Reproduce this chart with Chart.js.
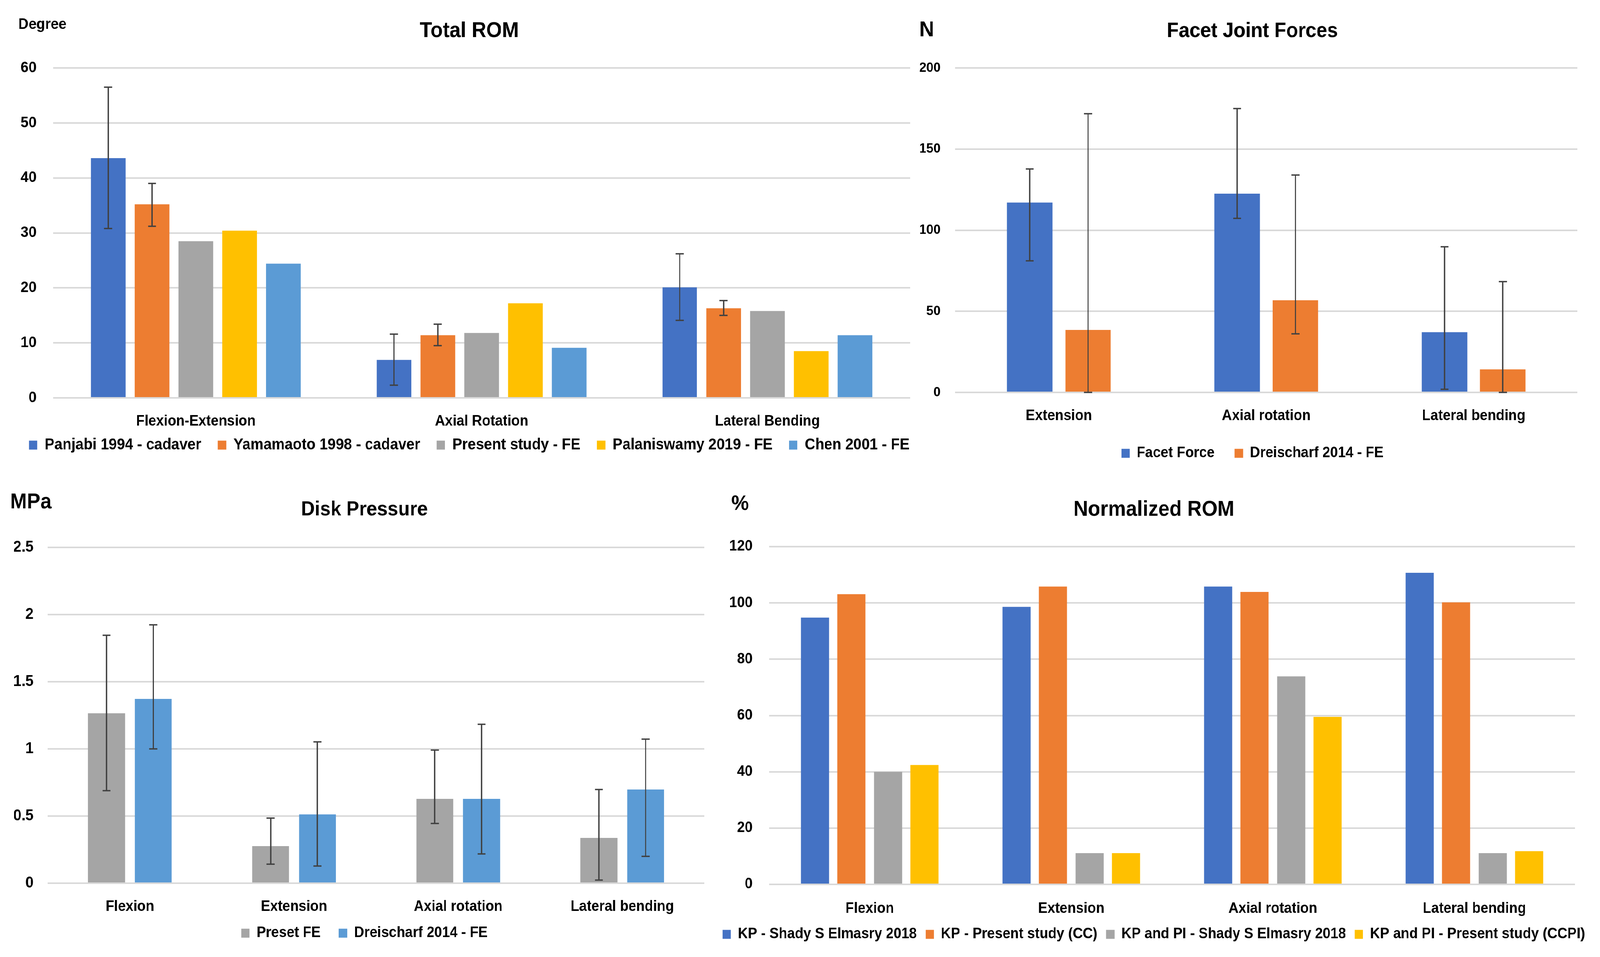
<!DOCTYPE html>
<html>
<head>
<meta charset="utf-8">
<script src="https://cdn.jsdelivr.net/npm/chart.js"></script>
<style>
  html, body { margin: 0; padding: 0; background: #fff; overflow: hidden; }
  #page { position: relative; width: 4382px; height: 2451px; background: #fff; transform-origin: 0 0; }
  #page canvas { position: absolute; }
</style>
</head>
<body>
<div id="page"></div>
<script>
// ---- Total ROM (degree) ----
const romLabels = ['Flexion-Extension', 'Axial Rotation', 'Lateral Bending'];
const romTicks = ['0', '10', '20', '30', '40', '50', '60'];
const romPanjabi = [43.6, 6.9, 20.1];
const romPanjabiLow = [30.8, 2.3, 14.1];
const romPanjabiHigh = [56.5, 11.6, 26.2];
const romYamamaoto = [35.2, 11.4, 16.3];
const romYamamaotoLow = [31.2, 9.5, 15.0];
const romYamamaotoHigh = [39.0, 13.4, 17.7];
const romPresent = [28.5, 11.8, 15.8];
const romPalaniswamy = [30.4, 17.2, 8.5];
const romChen = [24.4, 9.1, 11.4];

// ---- Facet Joint Forces (N) ----
const facetLabels = ['Extension', 'Axial rotation', 'Lateral bending'];
const facetTicks = ['0', '50', '100', '150', '200'];
const facetForce = [117.0, 122.5, 37.1];
const facetForceLow = [81.1, 107.3, 1.9];
const facetForceHigh = [137.7, 175.0, 89.8];
const facetDreischarf = [38.5, 56.8, 14.2];
const facetDreischarfLow = [0, 36.1, 0];
const facetDreischarfHigh = [171.8, 134.0, 68.3];

// ---- Disk Pressure (MPa) ----
const diskLabels = ['Flexion', 'Extension', 'Axial rotation', 'Lateral bending'];
const diskTicks = ['0', '0.5', '1', '1.5', '2', '2.5'];
const diskPreset = [1.265, 0.276, 0.628, 0.337];
const diskPresetLow = [0.689, 0.142, 0.445, 0.023];
const diskPresetHigh = [1.846, 0.485, 0.991, 0.698];
const diskDreischarf = [1.372, 0.512, 0.628, 0.698];
const diskDreischarfLow = [1.0, 0.128, 0.218, 0.2];
const diskDreischarfHigh = [1.924, 1.052, 1.183, 1.073];

// ---- Normalized ROM (%) ----
const normLabels = ['Flexion', 'Extension', 'Axial rotation', 'Lateral bending'];
const normTicks = ['0', '20', '40', '60', '80', '100', '120'];
const normKpElmasry = [94.8, 98.6, 105.8, 110.7];
const normKpPresent = [103.1, 105.8, 103.9, 100.2];
const normKpPiElmasry = [40.0, 11.1, 73.9, 11.1];
const normKpPiPresent = [42.4, 11.1, 59.5, 11.8];

const BLUE = '#4472C4', ORANGE = '#ED7D31', GRAY = '#A5A5A5', YELLOW = '#FFC000', SKY = '#5B9BD5';
const FONT = "'Liberation Sans', Arial, sans-serif";

// fit the 4382x2451 sheet into whatever viewport we actually get
const page = document.getElementById('page');
const sx = window.innerWidth / 4382, sy = window.innerHeight / 2451;
if (Math.abs(sx - 1) > 0.001 || Math.abs(sy - 1) > 0.001) {
    page.style.transform = `scale(${sx}, ${sy})`;
}

const errorBars = {
    id: 'errorBars',
    afterDatasetsDraw(chart) {
        const ctx = chart.ctx;
        const y = chart.scales.y;
        ctx.save();
        ctx.strokeStyle = '#404040';
        ctx.lineWidth = 3.5;
        chart.data.datasets.forEach((ds, i) => {
            if (!ds.errLow) return;
            chart.getDatasetMeta(i).data.forEach((bar, j) => {
                const top = y.getPixelForValue(ds.errHigh[j]);
                const bot = y.getPixelForValue(ds.errLow[j]);
                ctx.beginPath();
                ctx.moveTo(bar.x, top); ctx.lineTo(bar.x, bot);
                ctx.moveTo(bar.x - 11, top); ctx.lineTo(bar.x + 11, top);
                ctx.moveTo(bar.x - 11, bot); ctx.lineTo(bar.x + 11, bot);
                ctx.stroke();
            });
        });
        ctx.restore();
    }
};

const unitLabel = {
    id: 'unitLabel',
    beforeDraw(chart) {
        // category labels sit lower than the axis box, don't clip them
        chart.scales.x._computeLabelArea = () => undefined;
    },
    afterDraw(chart, args, opts) {
        const ctx = chart.ctx;
        ctx.save();
        ctx.font = `bold ${opts.size}px ${FONT}`;
        ctx.fillStyle = '#000';
        ctx.textAlign = 'left';
        ctx.textBaseline = 'middle';
        ctx.fillText(opts.text, opts.x, opts.y);
        ctx.restore();
    }
};

function bars(label, data, color, low, high) {
    const ds = { label: label, data: data, backgroundColor: color, borderWidth: 0 };
    if (low) { ds.errLow = low; ds.errHigh = high; }
    return ds;
}

function buildPanel(cfg) {
    const canvas = document.createElement('canvas');
    canvas.width = cfg.w;
    canvas.height = cfg.h;
    canvas.style.left = cfg.x + 'px';
    canvas.style.top = cfg.y + 'px';
    page.appendChild(canvas);

    const L = cfg.area.l - cfg.x, R = cfg.area.r - cfg.x;
    const T = cfg.area.t - cfg.y, B = cfg.area.b - cfg.y;
    const titleLine = cfg.titleSize * 1.2;
    const titlePadTop = cfg.titleY - cfg.y - titleLine / 2;
    const titlePadBottom = T - titlePadTop - titleLine;
    const legendTop = cfg.legendY - cfg.y - cfg.legendPad - cfg.legendSize / 2;
    const legendHeight = cfg.legendSize + cfg.legendPad + 10;
    const xAxisHeight = legendTop - B;
    const bottomPad = cfg.h - legendTop - legendHeight;
    const catPad = cfg.catY - cfg.area.b - cfg.catSize * 0.6;
    const ticks = cfg.ticks;

    new Chart(canvas.getContext('2d'), {
        type: 'bar',
        data: {
            labels: cfg.labels,
            datasets: cfg.datasets.map(d => ({
                ...d,
                categoryPercentage: cfg.catPct,
                barPercentage: cfg.barPct
            }))
        },
        options: {
            responsive: false,
            animation: false,
            layout: { padding: { left: 0, right: 0, top: 0, bottom: bottomPad } },
            plugins: {
                title: {
                    display: true,
                    text: cfg.title,
                    color: '#000',
                    font: { family: FONT, size: cfg.titleSize, weight: 'bold' },
                    padding: { top: titlePadTop, bottom: titlePadBottom }
                },
                legend: {
                    position: 'bottom',
                    labels: {
                        color: '#000',
                        boxWidth: 23,
                        boxHeight: 23,
                        padding: cfg.legendPad,
                        font: { family: FONT, size: cfg.legendSize, weight: 'bold' }
                    }
                },
                tooltip: { enabled: false },
                unitLabel: {
                    text: cfg.unit.text,
                    x: cfg.unit.x - cfg.x,
                    y: cfg.unit.y - cfg.y,
                    size: cfg.unit.size
                }
            },
            scales: {
                x: {
                    grid: { display: false, drawTicks: false },
                    border: { display: false },
                    ticks: {
                        color: '#000',
                        padding: catPad,
                        maxRotation: 0,
                        autoSkip: false,
                        font: { family: FONT, size: cfg.catSize, weight: 'bold' }
                    },
                    afterFit: s => { s.height = xAxisHeight; }
                },
                y: {
                    min: 0,
                    max: Number(ticks[ticks.length - 1]),
                    grid: { color: '#D9D9D9', lineWidth: 4, drawTicks: false },
                    border: { display: false },
                    ticks: {
                        stepSize: Number(ticks[1]),
                        color: '#000',
                        padding: cfg.tickPad,
                        font: { family: FONT, size: cfg.tickSize, weight: 'bold' },
                        callback: (v, i) => ticks[i]
                    },
                    afterFit: s => { s.width = L; }
                },
                yPad: {
                    position: 'right',
                    display: true,
                    grid: { display: false, drawTicks: false },
                    border: { display: false },
                    ticks: { display: false },
                    afterFit: s => { s.width = cfg.w - R; }
                }
            }
        },
        plugins: [errorBars, unitLabel]
    });
}

buildPanel({
    x: 0, y: 0, w: 2570, h: 1200,
    area: { l: 145, r: 2493, t: 174, b: 1019 },
    title: 'Total ROM', titleY: 80, titleSize: 55,
    legendY: 1140, legendSize: 40, legendPad: 45,
    catY: 1080, catSize: 38,
    tickSize: 39, tickPad: 45,
    unit: { text: 'Degree', x: 50, y: 63, size: 39 },
    catPct: 0.767, barPct: 0.79,
    labels: romLabels, ticks: romTicks,
    datasets: [
        bars('Panjabi 1994 - cadaver', romPanjabi, BLUE, romPanjabiLow, romPanjabiHigh),
        bars('Yamamaoto 1998 - cadaver', romYamamaoto, ORANGE, romYamamaotoLow, romYamamaotoHigh),
        bars('Present study - FE', romPresent, GRAY),
        bars('Palaniswamy 2019 - FE', romPalaniswamy, YELLOW),
        bars('Chen 2001 - FE', romChen, SKY)
    ]
});

buildPanel({
    x: 2510, y: 0, w: 1840, h: 1210,
    area: { l: 2616, r: 4320, t: 174, b: 1005 },
    title: 'Facet Joint Forces', titleY: 80, titleSize: 53,
    legendY: 1161, legendSize: 38, legendPad: 55,
    catY: 1066, catSize: 38,
    tickSize: 35, tickPad: 40,
    unit: { text: 'N', x: 2518, y: 78, size: 56 },
    catPct: 0.563, barPct: 0.78,
    labels: facetLabels, ticks: facetTicks,
    datasets: [
        bars('Facet Force', facetForce, BLUE, facetForceLow, facetForceHigh),
        bars('Dreischarf 2014 - FE', facetDreischarf, ORANGE, facetDreischarfLow, facetDreischarfHigh)
    ]
});

buildPanel({
    x: 0, y: 1220, w: 1996, h: 1231,
    area: { l: 131, r: 1929, t: 1402, b: 2262 },
    title: 'Disk Pressure', titleY: 1306, titleSize: 52,
    legendY: 2390, legendSize: 38, legendPad: 50,
    catY: 2323, catSize: 38,
    tickSize: 40, tickPad: 39,
    unit: { text: 'MPa', x: 28, y: 1287, size: 55 },
    catPct: 0.57, barPct: 0.79,
    labels: diskLabels, ticks: diskTicks,
    datasets: [
        bars('Preset FE', diskPreset, GRAY, diskPresetLow, diskPresetHigh),
        bars('Dreischarf 2014 - FE', diskDreischarf, SKY, diskDreischarfLow, diskDreischarfHigh)
    ]
});

buildPanel({
    x: 1940, y: 1220, w: 2440, h: 1231,
    area: { l: 2106, r: 4314, t: 1400, b: 2265 },
    title: 'Normalized ROM', titleY: 1306, titleSize: 55,
    legendY: 2393, legendSize: 38, legendPad: 24,
    catY: 2328, catSize: 38,
    tickSize: 38, tickPad: 45,
    unit: { text: '%', x: 2003, y: 1291, size: 54 },
    catPct: 0.725, barPct: 0.77,
    labels: normLabels, ticks: normTicks,
    datasets: [
        bars('KP - Shady S Elmasry 2018', normKpElmasry, BLUE),
        bars('KP - Present study (CC)', normKpPresent, ORANGE),
        bars('KP and PI - Shady S Elmasry 2018', normKpPiElmasry, GRAY),
        bars('KP and PI - Present study (CCPI)', normKpPiPresent, YELLOW)
    ]
});
</script>
</body>
</html>
